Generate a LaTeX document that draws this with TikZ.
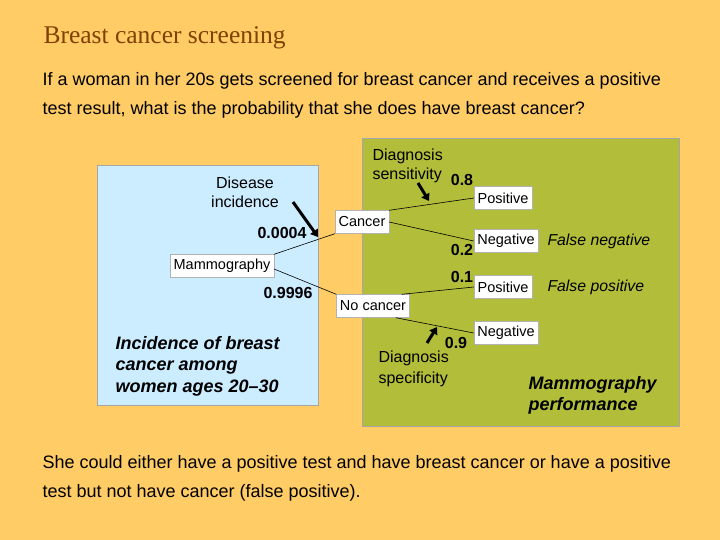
\documentclass[tikz,border=0pt]{standalone}
\usepackage{fontspec}
\setmainfont{Liberation Sans}
\newfontfamily\titlefont{Liberation Serif}
\usetikzlibrary{arrows.meta}
\definecolor{bgorange}{RGB}{255,204,102}
\definecolor{incblue}{RGB}{204,236,255}
\definecolor{perfgreen}{RGB}{178,190,58}
\definecolor{titlebrown}{RGB}{128,64,0}
\tikzset{
  outcome/.style={draw=gray!60, fill=white, font=\fontsize{14.5}{16}\selectfont, inner sep=3.5pt, minimum height=23pt},
  prob/.style={font=\bfseries\fontsize{16}{18}\selectfont},
  pointer/.style={line width=3pt, -{Triangle[length=7pt,width=9pt]}},
  branch/.style={line width=0.6pt}
}
\begin{document}
\begin{tikzpicture}[x=1pt,y=-1pt]
  %----- background -----
  \fill[bgorange] (0,0) rectangle (720,540);
  \useasboundingbox (0,0) rectangle (720,540);
  \fill[incblue] (97,165) rectangle (318,405);
  \draw[gray!70] (97,165) rectangle (318,405);
  \fill[perfgreen] (362,138) rectangle (679,426);
  \draw[gray!70] (362,138) rectangle (679,426);

  %----- texts -----
  \node[anchor=west, text=titlebrown, font=\titlefont\fontsize{25.5}{28}\selectfont] (title) at (40,38) {Breast cancer screening};
  \node[anchor=west, font=\fontsize{18}{20}\selectfont] (q1) at (39,81) {If a woman in her 20s gets screened for breast cancer and receives a positive};
  \node[anchor=west, font=\fontsize{18}{20}\selectfont] (q2) at (39,110) {test result, what is the probability that she does have breast cancer?};
  \node[anchor=west, font=\fontsize{18}{20}\selectfont] (a1) at (39,464) {She could either have a positive test and have breast cancer or have a positive};
  \node[anchor=west, font=\fontsize{18}{20}\selectfont] (a2) at (39,493) {test but not have cancer (false positive).};

  \node[align=center, font=\fontsize{16}{19}\selectfont] (incid) at (245,192) {Disease\\incidence};
  \node[align=left, anchor=west, font=\fontsize{16}{19}\selectfont] (sens) at (369,166) {Diagnosis\\sensitivity};
  \node[align=left, anchor=west, font=\fontsize{16}{21}\selectfont] (spec) at (375,369) {Diagnosis\\specificity};
  \node[align=left, anchor=west, font=\bfseries\itshape\fontsize{18}{21.5}\selectfont] (incnote) at (112,366) {Incidence of breast\\cancer among\\women ages 20--30};
  \node[align=left, anchor=west, font=\bfseries\itshape\fontsize{18}{21}\selectfont] (perfnote) at (525,395) {Mammography\\performance};

  %----- tree -----
  \node[outcome] (mammo) at (222,266) {Mammography};
  \node[outcome] (cancer) at (362,222) {Cancer};
  \node[outcome] (nocancer) at (373,306) {No cancer};
  \node[outcome] (pos1) at (503,198) {Positive};
  \node[outcome] (neg1) at (506,241) {Negative};
  \node[outcome] (pos2) at (503,287) {Positive};
  \node[outcome] (neg2) at (506,333) {Negative};
  \draw[branch] (mammo.north east) -- (cancer.south west);
  \draw[branch] ([yshift=-3pt]mammo.east) -- (nocancer.north west);
  \draw[branch] (cancer.north east) -- (pos1.west);
  \draw[branch] (cancer.east) -- (neg1.west);
  \draw[branch] ([xshift=-8pt]nocancer.north east) -- (pos2.west);
  \draw[branch] ([xshift=-14pt]nocancer.south east) -- (neg2.west);

  \node[anchor=west, font=\itshape\fontsize{15.8}{18}\selectfont] (fneg) at (544,241) {False negative};
  \node[anchor=west, font=\itshape\fontsize{15.8}{18}\selectfont] (fpos) at (544,287) {False positive};

  %----- probabilities -----
  \node[prob] (pinc) at (282,233) {0.0004};
  \node[prob] (pno) at (288,293) {0.9996};
  \node[prob] (p08) at (462,180) {0.8};
  \node[prob] (p02) at (462,250) {0.2};
  \node[prob] (p01) at (462,277) {0.1};
  \node[prob] (p09) at (456,343) {0.9};

  %----- pointers -----
  \coordinate (incA) at (293,202);
  \coordinate (incB) at (318,237);
  \coordinate (sensA) at (418,183);
  \coordinate (sensB) at (429,201);
  \coordinate (specA) at (427,343);
  \coordinate (specB) at (437,327);
  \draw[pointer] (incA) -- (incB);
  \draw[pointer] (sensA) -- (sensB);
  \draw[pointer] (specA) -- (specB);
\end{tikzpicture}
\end{document}
